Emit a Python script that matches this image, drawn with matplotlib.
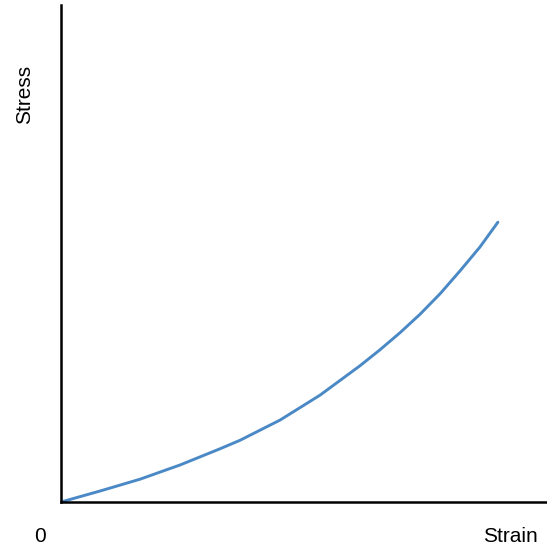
import matplotlib
matplotlib.use("Agg")
import matplotlib.pyplot as plt

plt.rcParams['font.family'] = ['Liberation Sans', 'DejaVu Sans']

# strain / stress (arbitrary units, axes span 0..1)
strain = [0.0, 0.080, 0.163, 0.245, 0.327, 0.368, 0.451, 0.533, 0.615,
          0.656, 0.698, 0.739, 0.780, 0.821, 0.862, 0.899]
stress = [0.0, 0.022, 0.046, 0.0745, 0.107, 0.124, 0.165, 0.215, 0.274,
          0.306, 0.341, 0.378, 0.419, 0.465, 0.513, 0.563]

W, H = 547, 546
fig = plt.figure(figsize=(W / 100, H / 100), dpi=100)
ax = fig.add_axes([61 / W, 1 - 502 / H, (W - 61) / W, (502 - 5) / H])

ax.plot(strain, stress, color='#4a89c6', lw=2.1,
        solid_capstyle='round', solid_joinstyle='round')

ax.set_xlim(0, 1)
ax.set_ylim(0, 1)
ax.set_xticks([])
ax.set_yticks([])
for s in ['top', 'right']:
    ax.spines[s].set_visible(False)
for s in ['left', 'bottom']:
    ax.spines[s].set_linewidth(1.8)
    ax.spines[s].set_color('black')

fig.text(40 / W, 1 - 536 / H, '0', fontsize=15, ha='center', va='center')
fig.text(510 / W, 1 - 536 / H, 'Strain', fontsize=15, ha='center', va='center')
fig.text(25 / W, 1 - 94 / H, 'Stress', fontsize=15, ha='center', va='center', rotation=90)

fig.savefig('out.png', dpi=100)
